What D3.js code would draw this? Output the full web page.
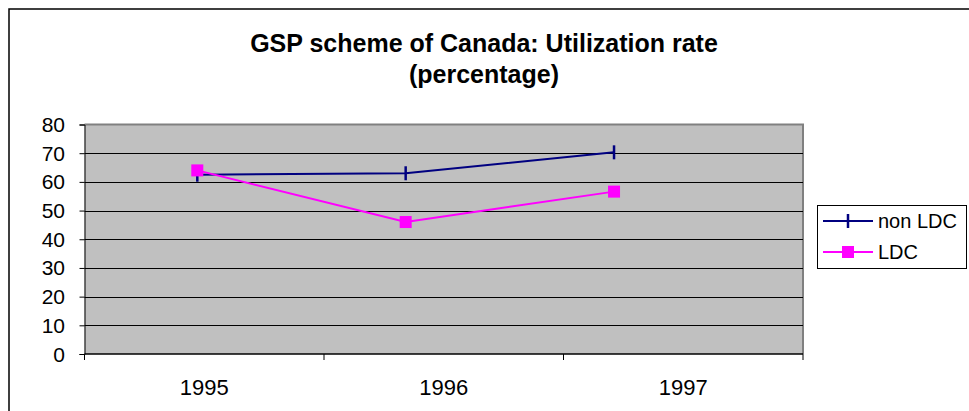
<!DOCTYPE html>
<html>
<head>
<meta charset="utf-8">
<script src="https://cdn.jsdelivr.net/npm/d3@7"></script>
<style>
  body { margin: 0; background: #fff; }
  text { font-family: "Liberation Sans", Arial, sans-serif; fill: #000; }
</style>
</head>
<body>
<svg id="chart" width="969" height="411"></svg>
<script>
const years = ["1995", "1996", "1997"]
const nonLDC = [62.5, 63.0, 70.3]
const LDC = [64.0, 46.0, 56.6]
const yTicks = [0, 10, 20, 30, 40, 50, 60, 70, 80]
const titleLines = ["GSP scheme of Canada: Utilization rate", "(percentage)"]

const svg = d3.select("#chart")
const width = 969, height = 411

const plot = { left: 84.5, top: 124.5, right: 803, bottom: 354 }
const plotW = plot.right - plot.left

// outer chart border
svg.append("rect")
  .attr("x", 9).attr("y", 9)
  .attr("width", 980).attr("height", 430)
  .attr("fill", "#fff")
  .attr("stroke", "#000")
  .attr("stroke-width", 1.5)

function addText(g, x, y, str, size, anchor, weight) {
  return g.append("text")
    .attr("x", x).attr("y", y)
    .attr("text-anchor", anchor)
    .attr("font-size", size)
    .attr("font-weight", weight || "normal")
    .text(str)
}

titleLines.forEach((t, i) => {
  addText(svg, 484, 52 + i * 31, t, 25, "middle", "bold")
})

const y = d3.scaleLinear().domain([0, 80]).range([plot.bottom, plot.top])
const xBand = d3.scaleBand().domain(years).range([plot.left, plot.right])
// the markers sit left of the band centres in the source
const xPt = d3.scalePoint().domain(years)
  .range([plot.left + plotW * 0.157, plot.left + plotW * 0.737])

// plot background
svg.append("rect")
  .attr("x", plot.left).attr("y", plot.top)
  .attr("width", plotW).attr("height", plot.bottom - plot.top)
  .attr("fill", "#c0c0c0")

// gray frame top / right
svg.append("path")
  .attr("d", `M${plot.left},${plot.top}H${plot.right}V${plot.bottom}`)
  .attr("fill", "none")
  .attr("stroke", "#808080")
  .attr("stroke-width", 2)

// gridlines
svg.append("g").selectAll("line")
  .data(yTicks.filter(d => d > 0 && d < 80))
  .enter().append("line")
  .attr("x1", plot.left).attr("x2", plot.right)
  .attr("y1", d => Math.round(y(d)) + 0.5).attr("y2", d => Math.round(y(d)) + 0.5)
  .attr("stroke", "#000")
  .attr("stroke-width", 1)

// y axis
const yAxis = d3.axisLeft(y).tickValues(yTicks).tickSize(5).tickFormat("")
const yG = svg.append("g")
  .attr("transform", `translate(${plot.left},0)`)
  .call(yAxis)
yG.select(".domain").attr("stroke", "#000")
yG.selectAll(".tick line").attr("stroke", "#000")

yTicks.forEach(d => {
  addText(svg, 65, y(d) + 7.5, String(d), 21, "end")
})

// x axis
svg.append("line")
  .attr("x1", plot.left).attr("x2", plot.right)
  .attr("y1", plot.bottom).attr("y2", plot.bottom)
  .attr("stroke", "#000").attr("stroke-width", 1.5)

const bounds = years.map(d => xBand(d)).concat([plot.right])
svg.append("g").selectAll("line")
  .data(bounds)
  .enter().append("line")
  .attr("x1", d => d).attr("x2", d => d)
  .attr("y1", plot.bottom).attr("y2", plot.bottom + 6)
  .attr("stroke", "#000")

years.forEach(d => {
  addText(svg, xBand(d) + xBand.bandwidth() / 2, 395, d, 22, "middle")
})

// series lines
const line = d3.line()
  .x((d, i) => xPt(years[i]))
  .y(d => y(d))

svg.append("path")
  .datum(nonLDC)
  .attr("d", line)
  .attr("fill", "none")
  .attr("stroke", "#000080")
  .attr("stroke-width", 2)

svg.append("path")
  .datum(LDC)
  .attr("d", line)
  .attr("fill", "none")
  .attr("stroke", "#ff00ff")
  .attr("stroke-width", 2)

// markers
svg.append("g").selectAll("line")
  .data(nonLDC)
  .enter().append("line")
  .attr("x1", (d, i) => xPt(years[i])).attr("x2", (d, i) => xPt(years[i]))
  .attr("y1", d => y(d) - 7).attr("y2", d => y(d) + 7)
  .attr("stroke", "#000080")
  .attr("stroke-width", 2.5)

svg.append("g").selectAll("rect")
  .data(LDC)
  .enter().append("rect")
  .attr("x", (d, i) => xPt(years[i]) - 6)
  .attr("y", d => y(d) - 6)
  .attr("width", 12).attr("height", 12)
  .attr("fill", "#ff00ff")

// legend
const leg = svg.append("g")
leg.append("rect")
  .attr("x", 817.5).attr("y", 205.5)
  .attr("width", 149).attr("height", 63)
  .attr("fill", "#fff")
  .attr("stroke", "#000")

const legendItems = [
  { name: "non LDC", color: "#000080", marker: "dash" },
  { name: "LDC", color: "#ff00ff", marker: "square" }
]
legendItems.forEach((it, i) => {
  const ly = 221 + i * 31
  leg.append("line")
    .attr("x1", 823).attr("x2", 873)
    .attr("y1", ly).attr("y2", ly)
    .attr("stroke", it.color).attr("stroke-width", 2)
  if (it.marker == "dash") {
    leg.append("line")
      .attr("x1", 848).attr("x2", 848)
      .attr("y1", ly - 7).attr("y2", ly + 7)
      .attr("stroke", it.color).attr("stroke-width", 2.5)
  } else {
    leg.append("rect")
      .attr("x", 842).attr("y", ly - 6)
      .attr("width", 12).attr("height", 12)
      .attr("fill", it.color)
  }
  addText(leg, 878, ly + 7, it.name, 20, "start")
})
</script>
</body>
</html>
